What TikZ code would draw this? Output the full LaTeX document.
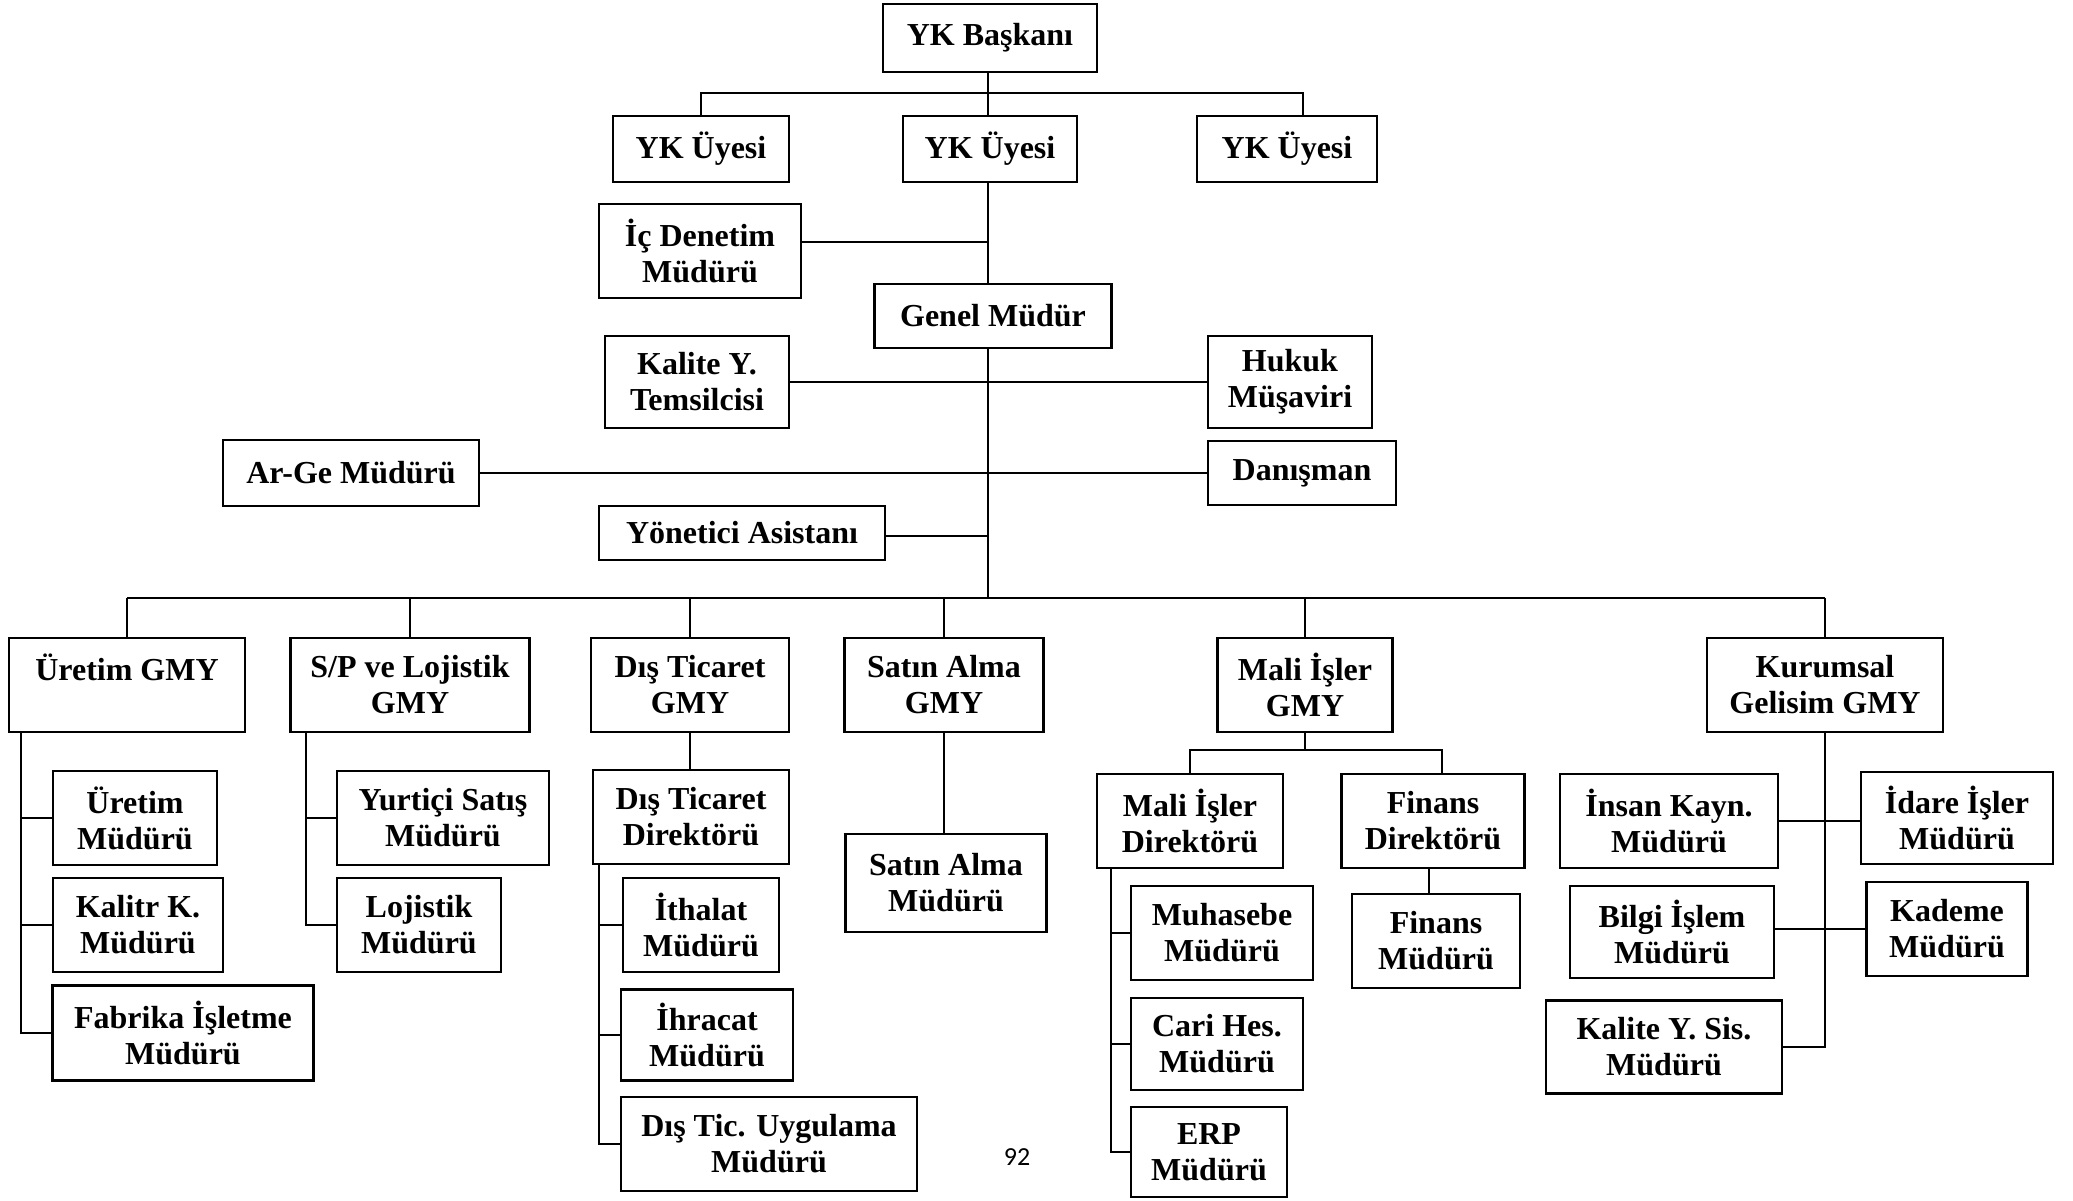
\documentclass[tikz,border=0pt]{standalone}
\usepackage{fontspec}
\setmainfont{Liberation Serif}
\newfontfamily\pagenumfont{Carlito}
\begin{document}
\begin{tikzpicture}[x=1pt,y=-1pt,
  box/.style={draw=black, line width=2.2pt, fill=white, align=center, inner sep=0pt,
    font=\bfseries\fontsize{32}{36}\selectfont},
  wh/.style 2 args={minimum width=#1pt, minimum height=#2pt},
  link/.style={draw=black, line width=2pt}]
\useasboundingbox (0,0) rectangle (2073,1200);

% --- board and general management ---
\node[box, wh={214}{68}] (bsk) at (990,38) {YK Başkanı};
\node[box, wh={176}{66}] (uy1) at (701,149) {YK Üyesi};
\node[box, wh={174}{66}] (uy2) at (990,149) {YK Üyesi};
\node[box, wh={180}{66}] (uy3) at (1287,149) {YK Üyesi};
\node[box, wh={202}{94}] (icd) at (700,251) {İç Denetim\\Müdürü};
\node[box, wh={237}{64}] (gm) at (993,316) {Genel Müdür};
\node[box, wh={184}{92}] (kyt) at (697,382) {Kalite Y.\\Temsilcisi};
\node[box, wh={164}{92}] (huk) at (1290,382) {Hukuk\\Müşaviri};
\node[box, wh={256}{66}] (arge) at (351,473) {Ar-Ge Müdürü};
\node[box, wh={188}{64}] (dan) at (1302,473) {Danışman};
\node[box, wh={286}{54}] (ya) at (742,533) {Yönetici Asistanı};

% --- deputy general managers ---
\node[box, wh={236}{94}] (g1) at (127,685) {Üretim GMY\\\mbox{}};
\node[box, wh={239}{94}] (g2) at (410,685) {S/P ve Lojistik\\GMY};
\node[box, wh={198}{94}] (g3) at (690,685) {Dış Ticaret\\GMY};
\node[box, wh={199}{94}] (g4) at (944,685) {Satın Alma\\GMY};
\node[box, wh={175}{94}] (g5) at (1305,685) {Mali İşler\\GMY};
\node[box, wh={236}{94}] (g6) at (1825,685) {Kurumsal\\Gelisim GMY};

% --- production ---
\node[box, wh={164}{94}] (u1) at (135,818) {Üretim\\Müdürü};
\node[box, wh={170}{94}] (u2) at (138,925) {Kalitr K.\\Müdürü};
\node[box, wh={261}{95}] (u3) at (183,1033) {Fabrika İşletme\\Müdürü};

% --- sales and logistics ---
\node[box, wh={212}{94}] (s1) at (443,818) {Yurtiçi Satış\\Müdürü};
\node[box, wh={164}{94}] (s2) at (419,925) {Lojistik\\Müdürü};

% --- foreign trade ---
\node[box, wh={196}{94}] (dtd) at (691,817) {Dış Ticaret\\Direktörü};
\node[box, wh={156}{94}] (d1) at (701,925) {İthalat\\Müdürü};
\node[box, wh={172}{91}] (d2) at (707,1035) {İhracat\\Müdürü};
\node[box, wh={296}{94}] (d3) at (769,1144) {Dış Tic. Uygulama\\Müdürü};

% --- purchasing ---
\node[box, wh={201}{98}] (sam) at (946,883) {Satın Alma\\Müdürü};

% --- finance ---
\node[box, wh={186}{94}] (mid) at (1190,821) {Mali İşler\\Direktörü};
\node[box, wh={183}{94}] (fid) at (1433,821) {Finans\\Direktörü};
\node[box, wh={182}{94}] (m1) at (1222,933) {Muhasebe\\Müdürü};
\node[box, wh={172}{92}] (m2) at (1217,1044) {Cari Hes.\\Müdürü};
\node[box, wh={156}{90}] (m3) at (1209,1152) {ERP\\Müdürü};
\node[box, wh={168}{94}] (fm) at (1436,941) {Finans\\Müdürü};

% --- corporate development ---
\node[box, wh={218}{94}] (k1) at (1669,821) {İnsan Kayn.\\Müdürü};
\node[box, wh={192}{92}] (k2) at (1957,818) {İdare İşler\\Müdürü};
\node[box, wh={204}{92}] (k3) at (1672,932) {Bilgi İşlem\\Müdürü};
\node[box, wh={161}{94}] (k4) at (1947,929) {Kademe\\Müdürü};
\node[box, wh={236}{93}] (k5) at (1664,1047) {Kalite Y. Sis.\\Müdürü};

% page number
\node[font=\pagenumfont\fontsize{26}{30}\selectfont] (pg) at (1017,1157) {92};

% --- connectors ---
\coordinate (t) at (988,0);
\coordinate (j1) at (988,93);
\coordinate (bus) at (988,598);
\draw[link] (bsk.south -| t) -- (uy2.north -| t);
\draw[link] (j1) -| (uy1.north);
\draw[link] (j1) -| ([xshift=16pt]uy3.north);
\draw[link] (uy2.south -| t) -- (gm.north -| t);
\draw[link] ([yshift=9pt]icd.east) -- ([yshift=9pt]icd.east -| t);
\draw[link] (kyt.east) -- (huk.west);
\draw[link] (arge.east) -- (dan.west);
\draw[link] ([yshift=-3pt]ya.east) -- ([yshift=-3pt]ya.east -| t);
\draw[link] (gm.south -| t) -- (bus);
\draw[link] (g1.north |- bus) -- (g6.north |- bus);
\foreach \g in {g1,g2,g3,g4,g5,g6}
  \draw[link] (\g.north) -- (\g.north |- bus);

% production
\coordinate (ut) at (21,732);
\draw[link] (ut) |- (u3.west);
\draw[link] (u1.west) -- (u1.west -| ut);
\draw[link] (u2.west) -- (u2.west -| ut);

% sales and logistics
\coordinate (st) at (306,732);
\draw[link] (st) |- (s2.west);
\draw[link] (s1.west) -- (s1.west -| st);

% foreign trade
\draw[link] (g3.south) -- (g3.south |- dtd.north);
\coordinate (dt) at (599,864);
\draw[link] (dt) |- (d3.west);
\draw[link] (d1.west) -- (d1.west -| dt);
\draw[link] (d2.west) -- (d2.west -| dt);

% purchasing
\draw[link] (g4.south) -- (g4.south |- sam.north);

% finance
\coordinate (mj) at (1305,750);
\draw[link] (g5.south) -- (mj);
\draw[link] (mid.north) |- (mj) -| ([xshift=9pt]fid.north);
\coordinate (mt) at (1111,868);
\draw[link] (mt) |- (m3.west);
\draw[link] (m1.west) -- (m1.west -| mt);
\draw[link] (m2.west) -- (m2.west -| mt);
\draw[link] ([xshift=-4pt]fid.south) -- ([xshift=-4pt]fid.south |- fm.north);

% corporate development
\draw[link] (g6.south) |- (k5.east);
\draw[link] (k1.east) -- (k1.east -| k2.west);
\draw[link] ([yshift=3pt]k3.east) -- ([yshift=3pt]k3.east -| k4.west);
\end{tikzpicture}
\end{document}
